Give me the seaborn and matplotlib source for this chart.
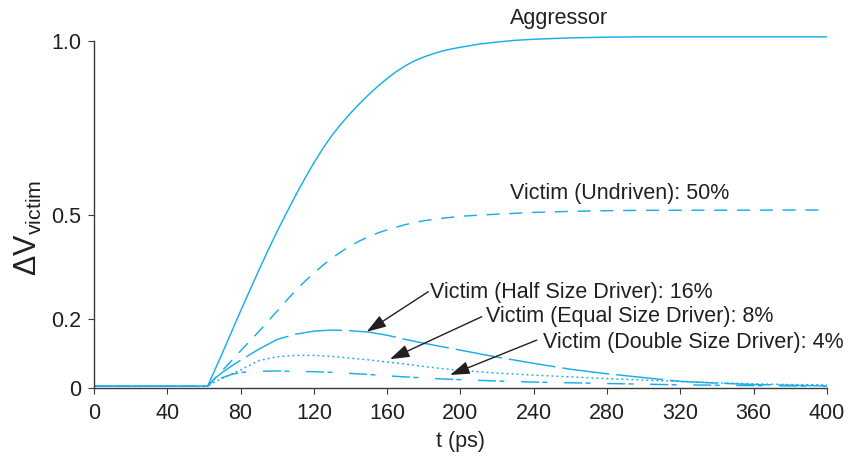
import matplotlib
matplotlib.use("Agg")
import matplotlib.pyplot as plt
import pandas as pd
import seaborn as sns

# ---- waveform samples (time in ps, crosstalk voltage normalised to VDD) ----
t_aggressor = [0, 62, 70, 80, 90, 95, 100, 105, 110, 115, 120, 125, 130, 135,
               140, 145, 150, 155, 160, 165, 170, 175, 180, 185, 190, 195, 200,
               210, 220, 230, 240, 260, 280, 300, 400]
v_aggressor = [0.005, 0.005, 0.100, 0.222, 0.340, 0.397, 0.452, 0.504, 0.555,
               0.603, 0.649, 0.691, 0.729, 0.762, 0.792, 0.820, 0.846, 0.870,
               0.892, 0.912, 0.929, 0.943, 0.954, 0.963, 0.971, 0.977, 0.982,
               0.991, 0.997, 1.002, 1.005, 1.009, 1.011, 1.012, 1.012]

t_undriven = [0, 62, 70, 80, 90, 100, 105, 110, 115, 120, 125, 130, 135, 140,
              145, 150, 155, 160, 170, 180, 190, 200, 220, 240, 260, 280, 300,
              400]
v_undriven = [0.005, 0.005, 0.050, 0.107, 0.163, 0.222, 0.252, 0.281, 0.307,
              0.331, 0.354, 0.375, 0.393, 0.410, 0.424, 0.436, 0.447, 0.456,
              0.471, 0.482, 0.489, 0.495, 0.501, 0.506, 0.509, 0.511, 0.512,
              0.513]

t_victim = [0, 62, 66, 70, 75, 80, 90, 100, 110, 120, 130, 140, 150, 160, 170,
            180, 190, 200, 220, 240, 260, 280, 300, 320, 340, 360, 380, 400]
v_half = [0.005, 0.005, 0.028, 0.045, 0.063, 0.080, 0.112, 0.140, 0.155, 0.164,
          0.167, 0.165, 0.161, 0.152, 0.140, 0.129, 0.119, 0.109, 0.089, 0.071,
          0.054, 0.041, 0.030, 0.019, 0.014, 0.010, 0.008, 0.006]
v_equal = [0.005, 0.005, 0.018, 0.028, 0.040, 0.052, 0.079, 0.090, 0.094, 0.094,
           0.091, 0.086, 0.081, 0.075, 0.069, 0.062, 0.056, 0.051, 0.043, 0.037,
           0.032, 0.027, 0.023, 0.019, 0.015, 0.012, 0.010, 0.009]
v_double = [0.005, 0.005, 0.020, 0.030, 0.039, 0.045, 0.048, 0.049, 0.048, 0.047,
            0.045, 0.042, 0.039, 0.035, 0.032, 0.029, 0.026, 0.024, 0.020, 0.017,
            0.015, 0.013, 0.011, 0.009, 0.008, 0.007, 0.006, 0.005]

x_ticks = [0, 40, 80, 120, 160, 200, 240, 280, 320, 360, 400]
y_ticks = [0, 0.2, 0.5, 1.0]
y_tick_labels = ["0", "0.2", "0.5", "1.0"]

CYAN = "#1aaee8"
INK = "#231f20"
AXIS = "#3a3a3a"
FS = 15.5

sns.set_theme(style="ticks")
plt.rcParams.update({
    "font.family": ["Liberation Sans", "DejaVu Sans"],
    "mathtext.fontset": "custom",
    "mathtext.rm": "Liberation Sans",
    "mathtext.it": "Liberation Sans",
    "mathtext.default": "regular",
    "lines.scale_dashes": False,
})

frames = [
    pd.DataFrame({"t": t_aggressor, "v": v_aggressor, "series": "Aggressor"}),
    pd.DataFrame({"t": t_undriven, "v": v_undriven, "series": "Undriven"}),
    pd.DataFrame({"t": t_victim, "v": v_half, "series": "Half"}),
    pd.DataFrame({"t": t_victim, "v": v_equal, "series": "Equal"}),
    pd.DataFrame({"t": t_victim, "v": v_double, "series": "Double"}),
]
df = pd.concat(frames, ignore_index=True)

dash_map = {
    "Aggressor": "",
    "Undriven": (9.4, 7.0),
    "Half": (34.0, 5.0),
    "Equal": (1.4, 2.2),
    "Double": (13.0, 2.4, 3.6, 12.0),
}

fig = plt.figure(figsize=(8.54, 4.62), dpi=100)
ax = fig.add_axes([94 / 854, (462 - 388) / 462, 733 / 854, 1.06 * 347 / 462])

sns.lineplot(data=df, x="t", y="v", style="series", dashes=dash_map,
             color=CYAN, linewidth=1.05, estimator=None, sort=False,
             legend=False, ax=ax)

ax.set_xlim(0, 400)
ax.set_ylim(0, 1.06)
ax.set_xticks(x_ticks)
ax.set_yticks(y_ticks)
ax.set_yticklabels(y_tick_labels)

for side in ("top", "right"):
    ax.spines[side].set_visible(False)
for side in ("left", "bottom"):
    ax.spines[side].set_color(AXIS)
    ax.spines[side].set_linewidth(1.0)
ax.spines["left"].set_bounds(0, 1.0)

ax.tick_params(axis="both", direction="out", length=4, width=0.8,
               color=AXIS, labelcolor=INK, labelsize=FS)
ax.tick_params(axis="x", pad=7)
ax.tick_params(axis="y", pad=5)

ax.set_xlabel("t (ps)", fontsize=FS, color=INK, labelpad=5)
ax.set_ylabel(r"$\Delta V_{victim}$", fontsize=22, color=INK)
ax.yaxis.set_label_coords(-0.068, 0.435)

text_kw = dict(fontsize=FS, color=INK, ha="left", va="baseline")
ax.text(227, 1.049, "Aggressor", **text_kw)
ax.text(227, 0.545, "Victim (Undriven): 50%", **text_kw)

arrow_kw = dict(arrowstyle="-|>,head_length=0.85,head_width=0.28",
                color=INK, lw=1.0, shrinkA=0, shrinkB=0, mutation_scale=14)

ax.annotate("", xy=(148.8, 0.162), xytext=(182.4, 0.2775), arrowprops=arrow_kw)
ax.annotate("", xy=(161.5, 0.083), xytext=(211.6, 0.2055), arrowprops=arrow_kw)
ax.annotate("", xy=(194.3, 0.0375), xytext=(241.6, 0.138), arrowprops=arrow_kw)

ax.text(183.4, 0.2585, "Victim (Half Size Driver): 16%", **text_kw)
ax.text(213.9, 0.191, "Victim (Equal Size Driver): 8%", **text_kw)
ax.text(245.2, 0.1144, "Victim (Double Size Driver): 4%", **text_kw)

fig.savefig("out.png", dpi=100, facecolor="white")
